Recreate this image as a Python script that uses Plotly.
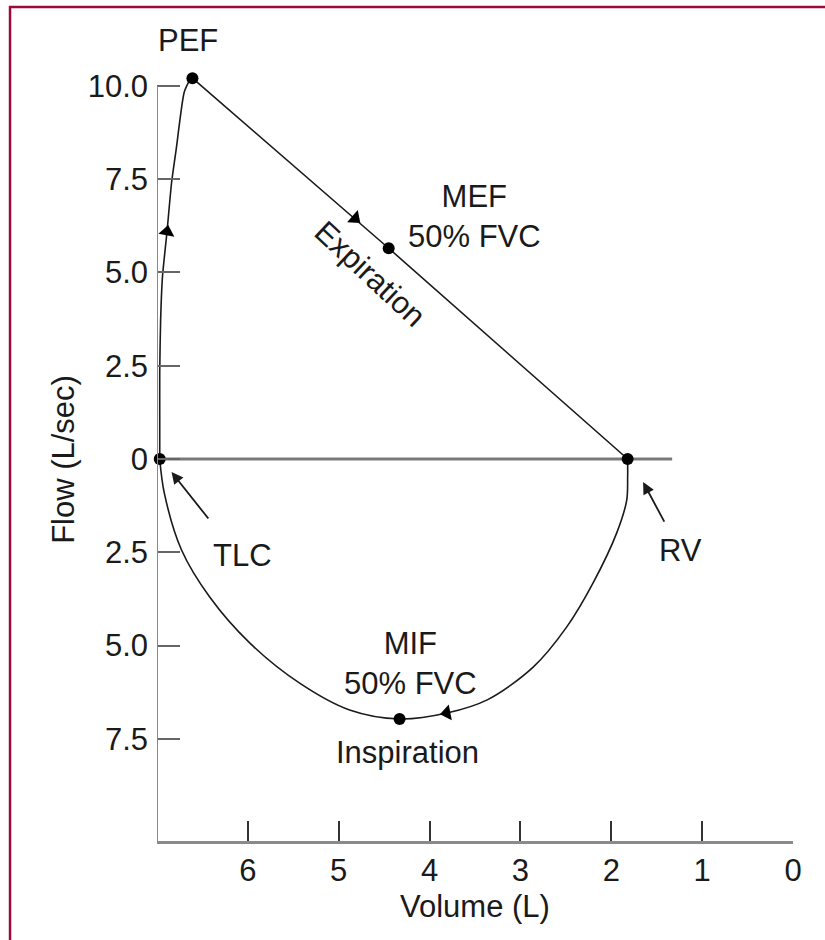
import plotly.graph_objects as go

# ---- data (volume in L, flow in L/sec; inspiration flow negative) ----
rise_vol = [6.97, 6.97, 6.97, 6.96, 6.94, 6.89, 6.84, 6.79, 6.70, 6.63]
rise_flow = [0.0, 1.05, 2.33, 3.73, 4.88, 6.09, 7.40, 8.28, 9.84, 10.21]

fall_vol = [6.61, 4.45, 1.82]
fall_flow = [10.21, 5.65, 0.0]

insp_vol = [6.97, 6.92, 6.73, 6.42, 5.98, 5.43, 4.88, 4.33, 3.81, 3.36, 2.86, 2.49, 2.20, 1.94, 1.83, 1.82, 1.82]
insp_flow = [0.0, -0.91, -2.44, -3.70, -4.93, -6.01, -6.73, -6.97, -6.81, -6.45, -5.58, -4.50, -3.32, -1.98, -1.10, -0.50, 0.0]

zero_vol = [7.0, 1.33]
zero_flow = [0.0, 0.0]

key_names = ["PEF", "MEF", "TLC", "RV", "MIF"]
key_vol = [6.61, 4.45, 6.97, 1.82, 4.33]
key_flow = [10.21, 5.65, 0.0, 0.0, -6.97]

dir_vol = [6.89, 4.82, 3.81]
dir_flow = [6.09, 6.45, -6.81]
dir_symbols = ["triangle-up", "triangle-right", "triangle-left"]
dir_angles = [10, 41, -11]

ytick_vals = [10, 7.5, 5, 2.5, 0, -2.5, -5, -7.5]
ytick_text = ["10.0", "7.5", "5.0", "2.5", "0", "2.5", "5.0", "7.5"]
xtick_vals = [6, 5, 4, 3, 2, 1, 0]
xtick_text = ["6", "5", "4", "3", "2", "1", "0"]

FONT = "Liberation Sans, Arial, Helvetica, sans-serif"
INK = "#1a1a1a"
FS = 31

fig = go.Figure()

fig.add_trace(go.Scatter(x=zero_vol, y=zero_flow, mode="lines",
                         line=dict(color="#7a7a7a", width=3), hoverinfo="skip"))
fig.add_trace(go.Scatter(x=rise_vol, y=rise_flow, mode="lines",
                         line=dict(color=INK, width=1.6, shape="spline", smoothing=0.6)))
fig.add_trace(go.Scatter(x=fall_vol, y=fall_flow, mode="lines",
                         line=dict(color=INK, width=1.6)))
fig.add_trace(go.Scatter(x=insp_vol, y=insp_flow, mode="lines",
                         line=dict(color=INK, width=1.6, shape="spline", smoothing=0.9)))
fig.add_trace(go.Scatter(x=key_vol, y=key_flow, mode="markers", text=key_names,
                         marker=dict(color="black", size=12), cliponaxis=False))
fig.add_trace(go.Scatter(x=dir_vol, y=dir_flow, mode="markers",
                         marker=dict(color="black", size=14, symbol=dir_symbols,
                                     angle=dir_angles)))

def txt(x, y, s, angle=0):
    fig.add_annotation(x=x, y=y, xref="x", yref="y", text=s, showarrow=False,
                       textangle=angle, font=dict(family=FONT, size=FS, color=INK),
                       align="center", xanchor="center", yanchor="middle")

txt(6.66, 11.23, "PEF")
txt(3.51, 6.50, "MEF<br>50% FVC")
txt(4.66, 4.96, "Expiration", angle=43)
txt(6.06, -2.60, "TLC")
txt(1.24, -2.44, "RV")
txt(4.21, -5.47, "MIF<br>50% FVC")
txt(4.24, -7.86, "Inspiration")

# pointer arrows
fig.add_annotation(x=6.84, y=-0.35, ax=38, ay=48, xref="x", yref="y",
                   showarrow=True, arrowhead=2, arrowsize=1.3, arrowwidth=1.8,
                   arrowcolor=INK, text="")
fig.add_annotation(x=1.65, y=-0.62, ax=22, ay=41, xref="x", yref="y",
                   showarrow=True, arrowhead=2, arrowsize=1.3, arrowwidth=1.8,
                   arrowcolor=INK, text="")

# axis titles
fig.add_annotation(x=-0.148, y=0, xref="paper", yref="y", text="Flow (L/sec)",
                   showarrow=False, textangle=-90, xanchor="center", yanchor="middle",
                   font=dict(family=FONT, size=FS, color=INK))
fig.add_annotation(x=0.5, y=-0.0795, xref="paper", yref="paper", text="Volume (L)",
                   showarrow=False, xanchor="center", yanchor="middle",
                   font=dict(family=FONT, size=FS, color=INK))

# y axis line (ends at the 10.0 tick)
fig.add_shape(type="line", xref="x", yref="y", x0=7, x1=7, y0=-10.241, y1=10,
              line=dict(color="#8a8a8a", width=2))
# page border (top and left)
fig.add_shape(type="path", xref="paper", yref="paper",
              path="M -0.2311,-0.13 L -0.2311,1.0097 L 1.07,1.0097",
              line=dict(color="#9b0a3c", width=2.5))

fig.update_layout(
    width=825, height=940,
    margin=dict(l=157, r=32, t=15, b=99),
    paper_bgcolor="white", plot_bgcolor="white",
    showlegend=False,
    font=dict(family=FONT, size=FS, color=INK),
    xaxis=dict(range=[7, 0], tickvals=xtick_vals, ticktext=xtick_text,
               ticks="inside", ticklen=20, tickwidth=2, tickcolor="#333",
               showline=True, linecolor="#8a8a8a", linewidth=3,
               showgrid=False, zeroline=False, ticklabelstandoff=0,
               tickfont=dict(family=FONT, size=FS, color=INK)),
    yaxis=dict(range=[-10.241, 11.903], tickvals=ytick_vals, ticktext=ytick_text,
               ticks="inside", ticklen=23, tickwidth=1.5, tickcolor="#666",
               showline=False, showgrid=False, zeroline=False, ticklabelstandoff=8,
               tickfont=dict(family=FONT, size=FS, color=INK)),
)

fig.write_html("out.html", config={"displayModeBar": False},
               post_script="document.body.style.margin='0px';document.body.style.overflow='hidden';")
